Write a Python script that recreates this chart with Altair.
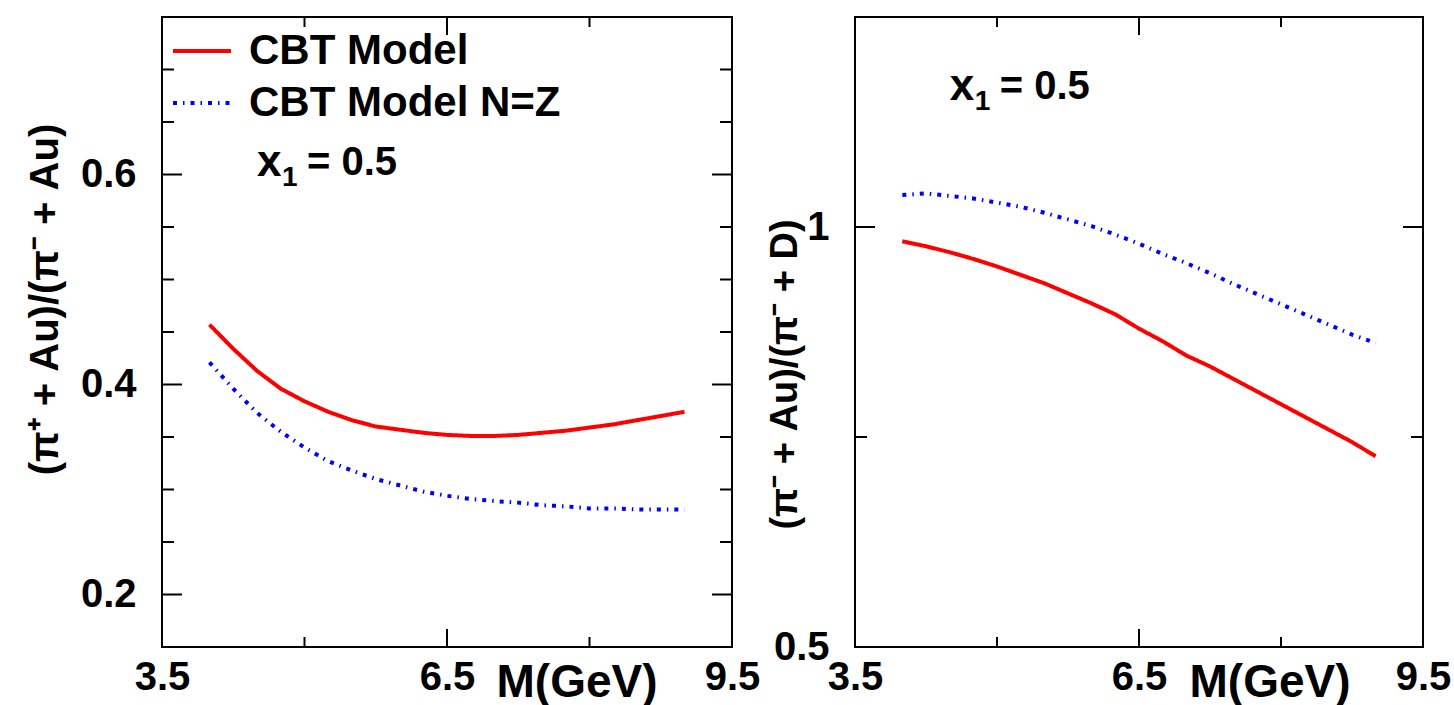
import altair as alt
import pandas as pd

FONT = "Liberation Sans"

# ---------------- data ----------------
M = [4.0, 4.25, 4.5, 4.75, 5.0, 5.25, 5.5, 5.75, 6.0, 6.25, 6.5,
     6.75, 7.0, 7.25, 7.5, 7.75, 8.0, 8.25, 8.5, 8.75, 9.0]

left_cbt = [0.457, 0.434, 0.413, 0.396, 0.384, 0.374, 0.366, 0.360, 0.357, 0.354, 0.352,
            0.351, 0.351, 0.352, 0.354, 0.356, 0.359, 0.362, 0.366, 0.370, 0.374]
left_nz = [0.421, 0.396, 0.373, 0.355, 0.340, 0.327, 0.318, 0.310, 0.304, 0.298, 0.294,
           0.291, 0.289, 0.2875, 0.285, 0.284, 0.282, 0.282, 0.281, 0.281, 0.281]

right_cbt = [0.983, 0.977, 0.970, 0.962, 0.953, 0.943, 0.933, 0.921, 0.909, 0.896, 0.879,
             0.864, 0.847, 0.834, 0.819, 0.804, 0.789, 0.774, 0.759, 0.744, 0.727]
right_nz = [1.038, 1.040, 1.037, 1.034, 1.029, 1.024, 1.017, 1.009, 1.001, 0.991, 0.980,
            0.968, 0.957, 0.945, 0.932, 0.920, 0.908, 0.896, 0.884, 0.872, 0.862]

series_names = ["CBT Model", "CBT Model N=Z"]
series_colors = ["#ff0000", "#0000ff"]
series_dashes = [[1, 0], [4, 6, 1.5, 6]]

x_domain = [3.5, 9.5]
x_labels = [3.5, 6.5, 9.5]
x_major_ticks = [6.5]
x_minor_ticks = [5.0, 8.0]

left_y_domain = [0.15, 0.75]
left_y_labels = [0.2, 0.4, 0.6]
left_y_major = [0.2, 0.4, 0.6]
left_y_minor = [0.25, 0.3, 0.35, 0.45, 0.5, 0.55, 0.65, 0.7]

right_y_domain = [0.5, 1.25]
right_y_labels = [0.5, 1.0]
right_y_major = [1.0]
right_y_minor = [0.75]

annot_parts = ["x", "1", "= 0.5"]
left_annot_pos = [4.5, 0.611]
right_annot_pos = [4.5, 1.167]

left_title = "(\u03c0\u207a + Au)/(\u03c0\u207b + Au)"
right_title = "(\u03c0\u207b + Au)/(\u03c0\u207b + D)"

W_L, W_R, H = 570, 568, 630
MAJ, MIN = 18, 10

LABEL_EXPR = "datum.value == 1 ? '1' : format(datum.value, '.1f')"


def long_df(a, b):
    rows = []
    for name, vals in zip(series_names, [a, b]):
        for m, v in zip(M, vals):
            rows.append({"M": m, "ratio": v, "series": name})
    return pd.DataFrame(rows)


def panel(a, b, y_domain, y_labels, y_major, y_minor, title, title_size, title_x, title_y,
          annot_pos, W, show_legend):
    xs = alt.Scale(domain=x_domain, nice=False, zero=False)
    ys = alt.Scale(domain=y_domain, nice=False, zero=False)
    x_axis = alt.Axis(values=x_labels, labelExpr=LABEL_EXPR, ticks=False, tickSize=0,
                      domain=False, grid=False, labelFont=FONT, labelFontSize=40,
                      labelFontWeight="bold", labelColor="black", labelPadding=10,
                      labelFlush=False, labelOverlap=False,
                      title="M(GeV)", titleFont=FONT, titleFontSize=46, titleFontWeight="bold",
                      titleColor="black", titleX=334, titleY=49, titleAlign="left",
                      titleBaseline="alphabetic", titleAnchor="start")
    y_axis = alt.Axis(values=y_labels, labelExpr=LABEL_EXPR, ticks=False, tickSize=0,
                      domain=False, grid=False, labelFont=FONT, labelFontSize=40,
                      labelFontWeight="bold", labelColor="black", labelPadding=26,
                      labelFlush=False, labelOverlap=False,
                      title=title, titleFont=FONT, titleFontSize=title_size,
                      titleFontWeight="bold", titleColor="black", titleX=title_x,
                      titleY=title_y, titleAngle=270, titleAlign="center",
                      titleBaseline="middle")
    if show_legend:
        leg = alt.Legend(orient="none", legendX=9, legendY=3, title=None, padding=0,
                         symbolType="stroke", symbolSize=3364, symbolStrokeWidth=4,
                         labelFont=FONT, labelFontSize=42, labelFontWeight="bold",
                         labelColor="black", labelOffset=16, labelLimit=600, rowPadding=0)
    else:
        leg = None

    def X(field):
        return alt.X(field, scale=xs, axis=x_axis)

    def Y(field):
        return alt.Y(field, scale=ys, axis=y_axis)

    lines = alt.Chart(long_df(a, b)).mark_line(strokeWidth=4, clip=True).encode(
        x=X("M:Q"),
        y=Y("ratio:Q"),
        color=alt.Color("series:N", scale=alt.Scale(domain=series_names, range=series_colors),
                        legend=leg),
        strokeDash=alt.StrokeDash("series:N",
                                  scale=alt.Scale(domain=series_names, range=series_dashes),
                                  legend=leg),
    )

    layers = [lines]
    # annotation "x_1 = 0.5"
    ann_df = pd.DataFrame({"x": [annot_pos[0]], "y": [annot_pos[1]]})
    for txt, dx, dy, fs in [(annot_parts[0], 0, 0, 44), (annot_parts[1], 25, 15, 28),
                            (annot_parts[2], 50, 0, 40)]:
        layers.append(alt.Chart(ann_df).mark_text(
            align="left", baseline="middle", font=FONT, fontSize=fs, fontWeight="bold",
            color="black", dx=dx, dy=dy, text=txt).encode(x=X("x:Q"), y=Y("y:Q")))

    # inward ticks on all four sides
    for vals, L in [(x_major_ticks, MAJ), (x_minor_ticks, MIN)]:
        d = pd.DataFrame({"v": vals})
        layers.append(alt.Chart(d).mark_rule(color="black", strokeWidth=2).encode(
            x=X("v:Q"), y=alt.value(H), y2=alt.value(H - L)))
        layers.append(alt.Chart(d).mark_rule(color="black", strokeWidth=2).encode(
            x=X("v:Q"), y=alt.value(0), y2=alt.value(L)))
    for vals, L in [(y_major, MAJ + 2), (y_minor, MIN + 2)]:
        d = pd.DataFrame({"v": vals})
        layers.append(alt.Chart(d).mark_rule(color="black", strokeWidth=2).encode(
            y=Y("v:Q"), x=alt.value(0), x2=alt.value(L)))
        layers.append(alt.Chart(d).mark_rule(color="black", strokeWidth=2).encode(
            y=Y("v:Q"), x=alt.value(W), x2=alt.value(W - L)))

    return alt.layer(*layers).properties(width=W, height=H)


left = panel(left_cbt, left_nz, left_y_domain, left_y_labels, left_y_major, left_y_minor,
             left_title, 40, -117, 282, left_annot_pos, W_L, True)
right = panel(right_cbt, right_nz, right_y_domain, right_y_labels, right_y_major, right_y_minor,
              right_title, 38, -70, 357, right_annot_pos, W_R, False)

chart = alt.hconcat(left, right, spacing=4).resolve_scale(
    color="independent", strokeDash="independent"
).properties(
    padding={"left": 24, "top": 15, "right": 0, "bottom": 0},
    background="white",
).configure_view(stroke="black", strokeWidth=2)

chart.save("out.html", embed_options={"renderer": "svg", "actions": False})
